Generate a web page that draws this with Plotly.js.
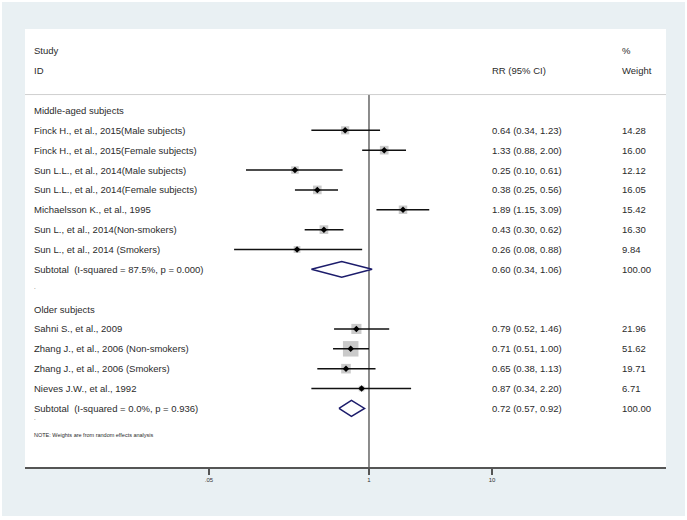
<!DOCTYPE html>
<html>
<head>
<meta charset="utf-8">
<script src="https://cdn.plot.ly/plotly-3.0.1.min.js"></script>
<style>
html,body{margin:0;padding:0;background:#ffffff;}
#chart{position:absolute;left:2px;top:2px;width:683px;height:514px;}
</style>
</head>
<body>
<div id="chart"></div>
<script>
// ---- data ----
const groupNames = ["Middle-aged subjects", "Older subjects"];
const studyLabels = [
  "Finck H., et al., 2015(Male subjects)",
  "Finck H., et al., 2015(Female subjects)",
  "Sun L.L., et al., 2014(Male subjects)",
  "Sun L.L., et al., 2014(Female subjects)",
  "Michaelsson K., et al., 1995",
  "Sun L., et al., 2014(Non-smokers)",
  "Sun L., et al., 2014 (Smokers)",
  "Sahni S., et al., 2009",
  "Zhang J., et al., 2006 (Non-smokers)",
  "Zhang J., et al., 2006 (Smokers)",
  "Nieves J.W., et al., 1992"
];
const studyGroup = [0,0,0,0,0,0,0,1,1,1,1];
const studyRR    = [0.64, 1.33, 0.25, 0.38, 1.89, 0.43, 0.26, 0.79, 0.71, 0.65, 0.87];
const studyLow   = [0.34, 0.88, 0.10, 0.25, 1.15, 0.30, 0.08, 0.52, 0.51, 0.38, 0.34];
const studyHigh  = [1.23, 2.00, 0.61, 0.56, 3.09, 0.62, 0.88, 1.46, 1.00, 1.13, 2.20];
const studyWeightText = ["14.28","16.00","12.12","16.05","15.42","16.30","9.84","21.96","51.62","19.71","6.71"];
const subtotalLabels = ["Subtotal  (I-squared = 87.5%, p = 0.000)", "Subtotal  (I-squared = 0.0%, p = 0.936)"];
const subtotalRR   = [0.60, 0.72];
const subtotalLow  = [0.34, 0.57];
const subtotalHigh = [1.06, 0.92];
const subtotalWeightText = ["100.00", "100.00"];
const tickVals = [0.05, 1, 10];
const tickText = [".05", "1", "10"];
const noteText = "NOTE: Weights are from random effects analysis";

// ---- layout of rows ----
const fmt = v => v.toFixed(2);
const rowOf = [];
const subRow = [];
const headRow = [];
const dotRow = [];
let r = 1;
for (let g = 0; g < groupNames.length; g++) {
  headRow.push(r); r++;
  for (let i = 0; i < studyLabels.length; i++) {
    if (studyGroup[i] === g) { rowOf[i] = r; r++; }
  }
  subRow.push(r); r++;
  dotRow.push(r); r++;
}

const weightsNum = studyWeightText.map(Number);
const maxW = Math.max(...weightsNum);

const txtColor = "#2b2b2b";
const font = {family: "Liberation Sans, Arial, Helvetica, sans-serif", size: 9.5, color: txtColor};
const ann = [];
function addText(text, xp, y, size) {
  ann.push({text: text, xref: "paper", yref: "y", x: xp, y: y, xanchor: "left", yanchor: "middle",
            showarrow: false, font: Object.assign({}, font, size ? {size: size} : {})});
}
const xLab = 0.0112, xRR = 0.7252, xW = 0.9275;
addText("Study", xLab, -2);
addText("ID", xLab, -1.02);
addText("RR (95% CI)", xRR, -1.02);
addText("%", xW, -2);
addText("Weight", xW, -1.02);
for (let g = 0; g < groupNames.length; g++) {
  addText(groupNames[g], xLab, headRow[g]);
  addText(subtotalLabels[g], xLab, subRow[g]);
  addText(fmt(subtotalRR[g]) + " (" + fmt(subtotalLow[g]) + ", " + fmt(subtotalHigh[g]) + ")", xRR, subRow[g]);
  addText(subtotalWeightText[g], xW, subRow[g]);
}
addText(".", xLab, dotRow[0] - 0.1, 6);
addText(".", xLab, dotRow[1] - 0.5, 6);
addText(noteText, xLab, dotRow[1] + 0.35, 5.5);
for (let i = 0; i < studyLabels.length; i++) {
  addText(studyLabels[i], xLab, rowOf[i]);
  addText(fmt(studyRR[i]) + " (" + fmt(studyLow[i]) + ", " + fmt(studyHigh[i]) + ")", xRR, rowOf[i]);
  addText(studyWeightText[i], xW, rowOf[i]);
}

// ---- traces ----
const ciX = [], ciY = [];
for (let i = 0; i < studyLabels.length; i++) {
  ciX.push(studyLow[i], studyHigh[i], null);
  ciY.push(rowOf[i], rowOf[i], null);
}
const traces = [];
traces.push({type: "scatter", mode: "markers", x: studyRR, y: rowOf,
  marker: {symbol: "square", color: "#b4b4b4", size: weightsNum.map(w => 15.5 * Math.sqrt(w / maxW)), line: {width: 0}},
  hoverinfo: "skip"});
traces.push({type: "scatter", mode: "lines", x: ciX, y: ciY, line: {color: "#111111", width: 1.5}, hoverinfo: "skip"});
traces.push({type: "scatter", mode: "markers", x: studyRR, y: rowOf,
  marker: {symbol: "diamond", color: "#000000", size: 5}, hoverinfo: "skip"});
for (let g = 0; g < groupNames.length; g++) {
  const y0 = subRow[g];
  traces.push({type: "scatter", mode: "lines",
    x: [subtotalLow[g], subtotalRR[g], subtotalHigh[g], subtotalRR[g], subtotalLow[g]],
    y: [y0, y0 - 0.4, y0, y0 + 0.4, y0],
    fill: "toself", fillcolor: "#ffffff", line: {color: "#1c1c6b", width: 1.5}, hoverinfo: "skip"});
}

const yTop = -3.1, yBot = 18.95;
const layout = {
  width: 683, height: 514,
  margin: {l: 23, r: 19, t: 27, b: 49, pad: 0},
  paper_bgcolor: "#e9f0f3",
  plot_bgcolor: "#ffffff",
  showlegend: false,
  xaxis: {type: "log", range: [-2.797, 2.415], showgrid: false, zeroline: false,
    showline: true, linecolor: "#555555", linewidth: 2,
    tickmode: "array", tickvals: tickVals, ticktext: tickText,
    ticks: "outside", ticklen: 6, tickwidth: 1.5, tickcolor: "#555555",
    tickfont: {family: "Liberation Sans, Arial, sans-serif", size: 6, color: "#333333"}, fixedrange: true},
  yaxis: {range: [yBot, yTop], visible: false, showgrid: false, zeroline: false, fixedrange: true},
  shapes: [
    {type: "line", xref: "paper", yref: "y", x0: 0, x1: 1, y0: 0.2, y1: 0.2, line: {color: "#cfcfcf", width: 1}},
    {type: "line", xref: "x", yref: "y", x0: 1, x1: 1, y0: 0.2, y1: yBot, layer: "below", line: {color: "#666666", width: 1.5}}
  ],
  annotations: ann
};
Plotly.newPlot("chart", traces, layout, {staticPlot: true, displayModeBar: false});
</script>
</body>
</html>
